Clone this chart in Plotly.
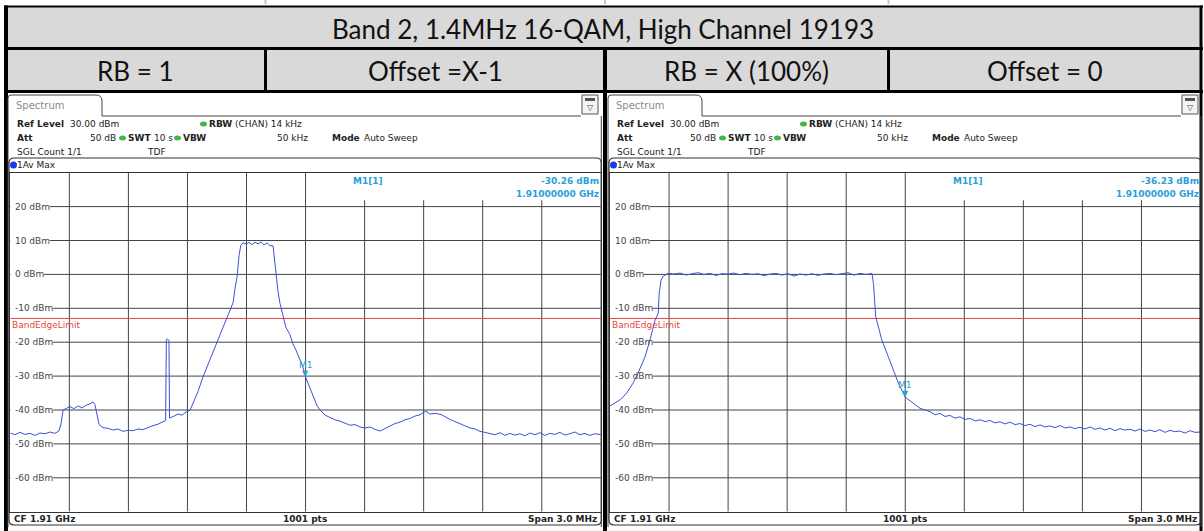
import plotly.graph_objects as go

# ---------------- data ----------------
title_text = "Band 2, 1.4MHz 16-QAM, High Channel 19193"
row2_labels = ["RB = 1", "Offset =X-1", "RB = X (100%)", "Offset = 0"]

y_tick_values = [20, 10, 0, -10, -20, -30, -40, -50, -60]
y_tick_labels = ["20 dBm", "10 dBm", "0 dBm", "-10 dBm", "-20 dBm", "-30 dBm", "-40 dBm", "-50 dBm", "-60 dBm"]
x_grid_mhz = [1908.8, 1909.1, 1909.4, 1909.7, 1910.0, 1910.3, 1910.6, 1910.9, 1911.2]
band_edge_limit_dbm = -13.0
f_start_mhz, f_stop_mhz = 1908.5, 1911.5
ref_top_dbm, ref_bot_dbm = 30, -70

left_freq_mhz = [1908.500, 1908.524, 1908.549, 1908.575, 1908.600, 1908.625, 1908.651, 1908.676, 1908.702,
                 1908.727, 1908.747, 1908.758, 1908.768, 1908.783, 1908.803, 1908.824, 1908.844, 1908.864,
                 1908.885, 1908.905, 1908.920, 1908.930, 1908.941, 1908.951, 1908.971, 1908.996, 1909.022,
                 1909.047, 1909.073, 1909.098, 1909.123, 1909.149, 1909.174, 1909.199, 1909.225, 1909.250,
                 1909.276, 1909.289, 1909.293, 1909.298, 1909.306, 1909.309, 1909.332, 1909.352, 1909.373,
                 1909.393, 1909.413, 1909.433, 1909.454, 1909.479, 1909.505, 1909.530, 1909.550, 1909.571,
                 1909.591, 1909.606, 1909.621, 1909.632, 1909.642, 1909.652, 1909.662, 1909.671, 1909.682,
                 1909.698, 1909.713, 1909.728, 1909.743, 1909.759, 1909.774, 1909.789, 1909.804, 1909.819,
                 1909.835, 1909.842, 1909.850, 1909.860, 1909.870, 1909.885, 1909.900, 1909.921, 1909.936,
                 1909.951, 1909.972, 1909.987, 1910.000, 1910.023, 1910.040, 1910.058, 1910.074, 1910.099,
                 1910.124, 1910.150, 1910.175, 1910.200, 1910.226, 1910.251, 1910.277, 1910.302, 1910.327,
                 1910.353, 1910.378, 1910.403, 1910.429, 1910.454, 1910.480, 1910.505, 1910.530, 1910.556,
                 1910.581, 1910.611, 1910.632, 1910.658, 1910.688, 1910.713, 1910.734, 1910.759, 1910.785,
                 1910.810, 1910.835, 1910.861, 1910.886, 1910.911, 1910.937, 1910.962, 1910.988, 1911.013,
                 1911.038, 1911.064, 1911.089, 1911.114, 1911.140, 1911.165, 1911.191, 1911.216, 1911.241,
                 1911.267, 1911.292, 1911.318, 1911.343, 1911.368, 1911.394, 1911.419, 1911.445, 1911.470,
                 1911.500]
left_level_dbm = [-46.8, -47.3, -46.6, -47.2, -46.9, -47.5, -46.8, -47.0, -46.5,
                  -46.9, -46.2, -44.0, -40.0, -39.5, -39.0, -39.6, -38.8, -39.4,
                  -38.6, -38.2, -37.6, -38.4, -41.5, -44.3, -45.2, -45.4, -45.9,
                  -45.6, -46.3, -46.0, -46.1, -45.6, -45.8, -45.1, -44.6, -44.2,
                  -43.5, -43.1, -19.2, -19.0, -19.5, -42.4, -41.8, -41.2, -41.5,
                  -40.6, -40.1, -37.5, -34.5, -30.2, -26.5, -22.8, -20.3, -17.2,
                  -14.5, -12.5, -10.0, -8.3, -4.0, -0.8, 5.5, 8.6, 9.3,
                  9.0, 9.4, 8.8, 9.5, 9.0, 9.6, 8.7, 9.3, 8.5,
                  8.4, 5.0, -0.7, -5.0, -8.5, -12.5, -15.6, -17.8, -20.5,
                  -22.3, -25.3, -27.4, -30.26, -33.5, -36.1, -38.7, -40.0, -41.5,
                  -42.2, -42.9, -43.3, -43.8, -44.5, -44.3, -45.0, -45.3, -45.0,
                  -45.7, -46.2, -45.5, -44.8, -44.0, -43.6, -42.9, -42.5, -41.8,
                  -41.4, -40.3, -41.2, -41.0, -41.3, -42.2, -42.8, -43.4, -44.0,
                  -44.7, -45.3, -45.6, -46.3, -46.6, -46.9, -47.3, -46.7, -47.5,
                  -46.9, -47.4, -47.0, -47.6, -46.8, -47.3, -46.7, -47.5, -46.9,
                  -47.2, -46.6, -47.4, -47.0, -46.5, -47.3, -46.9, -47.5, -47.0,
                  -47.3]

right_freq_mhz = [1908.500, 1908.520, 1908.551, 1908.585, 1908.617, 1908.642, 1908.678, 1908.703, 1908.729,
                  1908.745, 1908.750, 1908.759, 1908.771, 1908.795, 1908.825, 1908.856, 1908.886, 1908.917,
                  1908.947, 1908.978, 1909.008, 1909.039, 1909.069, 1909.099, 1909.130, 1909.160, 1909.191,
                  1909.221, 1909.252, 1909.282, 1909.313, 1909.343, 1909.374, 1909.404, 1909.435, 1909.465,
                  1909.496, 1909.526, 1909.557, 1909.587, 1909.618, 1909.648, 1909.679, 1909.709, 1909.740,
                  1909.770, 1909.801, 1909.831, 1909.839, 1909.843, 1909.850, 1909.857, 1909.881, 1909.914,
                  1909.939, 1909.965, 1910.000, 1910.041, 1910.075, 1910.126, 1910.152, 1910.177, 1910.202,
                  1910.227, 1910.253, 1910.278, 1910.304, 1910.329, 1910.355, 1910.380, 1910.405, 1910.431,
                  1910.456, 1910.481, 1910.507, 1910.532, 1910.558, 1910.583, 1910.608, 1910.634, 1910.659,
                  1910.685, 1910.710, 1910.735, 1910.761, 1910.786, 1910.812, 1910.837, 1910.862, 1910.888,
                  1910.913, 1910.939, 1910.964, 1910.989, 1911.015, 1911.040, 1911.066, 1911.091, 1911.116,
                  1911.142, 1911.167, 1911.193, 1911.218, 1911.243, 1911.269, 1911.294, 1911.320, 1911.345,
                  1911.370, 1911.396, 1911.421, 1911.447, 1911.472, 1911.500]
right_level_dbm = [-38.8, -38.0, -37.0, -35.0, -32.1, -29.2, -24.3, -19.4, -13.5,
                   -11.5, -5.6, -1.7, -0.5, 0.3, 0.1, 0.4, -0.2, 0.2,
                   0.5, 0.0, 0.3, -0.3, 0.2, 0.1, 0.4, -0.1, 0.3,
                   0.0, 0.2, -0.4, 0.1, 0.3, -0.2, 0.2, -0.5, 0.1,
                   -0.2, 0.2, -0.3, 0.1, 0.3, -0.1, 0.2, 0.5, -0.2,
                   0.3, 0.0, 0.3, -3.0, -5.6, -12.5, -14.0, -19.4, -24.3,
                   -28.2, -32.1, -36.23, -38.0, -39.5, -40.5, -41.4, -41.0, -41.9,
                   -41.6, -42.4, -42.0, -42.8, -42.5, -43.2, -42.9, -43.4, -43.1,
                   -43.8, -43.5, -44.1, -43.6, -44.3, -44.0, -44.6, -44.2, -44.9,
                   -44.4, -45.0, -44.7, -45.2, -44.6, -45.3, -45.0, -45.5, -45.1,
                   -45.6, -45.0, -45.7, -45.3, -45.9, -45.4, -46.1, -45.5, -45.9,
                   -45.7, -46.2, -45.6, -46.3, -45.9, -46.4, -45.8, -46.6, -46.0,
                   -46.4, -46.2, -46.8, -46.1, -46.6, -46.5]

marker_freq_mhz = 1910.0
marker_level_left = -30.26
marker_level_right = -36.23

# ---------------- layout helpers ----------------
W, H = 1204, 531
FONT = "DejaVu Sans"
TABLE_FONT = "Lato"
GRID = "#454545"
TRACE = "#3f51d6"
MK = "#2b9fd8"
TXT = "#222222"


def px(x):
    return x / W


def py(y):
    return 1 - y / H


fig = go.Figure()
grid_shapes = []
shapes = []
annotations = []


def ann(text, x, y, size=9, color=TXT, anchor="left", family=FONT, **kw):
    annotations.append(dict(text=text, x=px(x), y=py(y), xref="paper", yref="paper",
                            xanchor=anchor, yanchor="middle", showarrow=False,
                            borderpad=0, borderwidth=0,
                            font=dict(family=family, size=size, color=color), **kw))


def rect(x0, y0, x1, y1, fill=None, line=None, lw=0):
    shapes.append(dict(type="rect", xref="paper", yref="paper",
                       x0=px(x0), x1=px(x1), y0=py(y1), y1=py(y0),
                       fillcolor=fill if fill else "rgba(0,0,0,0)",
                       line=dict(color=line if line else "rgba(0,0,0,0)", width=lw)))


def hline(x0, x1, y, color="#000", w=1):
    shapes.append(dict(type="line", xref="paper", yref="paper", x0=px(x0), x1=px(x1),
                       y0=py(y), y1=py(y), line=dict(color=color, width=w)))


def vline(x, y0, y1, color="#000", w=1):
    shapes.append(dict(type="line", xref="paper", yref="paper", x0=px(x), x1=px(x),
                       y0=py(y0), y1=py(y1), line=dict(color=color, width=w)))


# ---------------- table header ----------------
rect(6, 7, 1201, 48, fill="#d9d9d9")
rect(6, 48, 1201, 91, fill="#d9d9d9")
hline(4, 1203, 6.5, "#000", 2)
hline(4, 1203, 48.5, "#000", 3)
hline(4, 1203, 91.5, "#000", 3)
vline(6, 5.5, 531, "#000", 4)
vline(1201, 5.5, 531, "#000", 3)
vline(605, 47, 531, "#000", 4)
vline(265.5, 47, 92, "#000", 3)
vline(888.5, 47, 92, "#000", 3)
for xt in (265.5, 605, 888.5):
    vline(xt, 0, 4, "#c8c8c8", 2)
ann(title_text, 603, 29, size=26, family=TABLE_FONT, anchor="center", color="#111")
for lbl, cx in zip(row2_labels, [135, 435, 746, 1045]):
    ann(lbl, cx, 71, size=26, family=TABLE_FONT, anchor="center", color="#111")

# ---------------- spectrum panels ----------------
panels = [
    dict(dx=0, xa="x", ya="y", freq=left_freq_mhz, lvl=left_level_dbm,
         mlev=marker_level_left, x0=10.3, x1=600.8),
    dict(dx=600, xa="x2", ya="y2", freq=right_freq_mhz, lvl=right_level_dbm,
         mlev=marker_level_right, x0=610.0, x1=1200.5),
]
plot_top, plot_bot = 172.7, 511.7
px_per_mhz = (600.8 - 10.3) / (f_stop_mhz - f_start_mhz)

char_w = {"-": 3.3, " ": 2.9, "d": 5.7, "B": 6.2, "m": 8.8}

for i, p in enumerate(panels):
    dx = p["dx"]
    xa, ya = p["xa"], p["ya"]
    # ---- grid (shapes, below traces) ----
    for fx in x_grid_mhz:
        grid_shapes.append(dict(type="line", xref=xa, yref=ya, x0=fx, x1=fx, y0=ref_bot_dbm, y1=ref_top_dbm,
                                line=dict(color=GRID, width=1), layer="below"))
    for v in y_tick_values:
        grid_shapes.append(dict(type="line", xref=xa, yref=ya, x0=f_start_mhz, x1=f_stop_mhz, y0=v, y1=v,
                                line=dict(color=GRID, width=1), layer="below"))
    # white patch hiding grid under marker info
    grid_shapes.append(dict(type="rect", xref=xa, yref=ya, x0=1910.1, x1=f_stop_mhz, y0=21.9, y1=ref_top_dbm,
                            fillcolor="white", line=dict(width=0), layer="below"))
    # y labels with white patches
    for v, lab in zip(y_tick_values, y_tick_labels):
        wpx = sum(char_w.get(c, 5.7) for c in lab) + 4.5
        grid_shapes.append(dict(type="rect", xref=xa, yref=ya, x0=f_start_mhz,
                                x1=f_start_mhz + wpx / px_per_mhz,
                                y0=v - 1.3, y1=v + 1.3, fillcolor="white", line=dict(width=0), layer="below"))
        annotations.append(dict(text=lab, xref=xa, yref=ya, x=f_start_mhz + 3.5 / px_per_mhz, y=v,
                                xanchor="left", yanchor="middle", showarrow=False, borderpad=0,
                                font=dict(family=FONT, size=9, color="#444")))
    # band edge limit
    grid_shapes.append(dict(type="line", xref=xa, yref=ya, x0=f_start_mhz, x1=f_stop_mhz,
                            y0=band_edge_limit_dbm, y1=band_edge_limit_dbm,
                            line=dict(color="#e8453c", width=1), layer="below"))
    annotations.append(dict(text="BandEdgeLimit", xref=xa, yref=ya, x=f_start_mhz + 0.5 / px_per_mhz,
                            y=band_edge_limit_dbm, xanchor="left", yanchor="top", yshift=-1,
                            showarrow=False, borderpad=0,
                            font=dict(family=FONT, size=9, color="#e8453c")))

    # ---- panel frame ----
    shapes.append(dict(type="path", xref="paper", yref="paper",
                       path=(f"M {px(8+dx)} {py(527)} L {px(8+dx)} {py(98)} "
                             f"Q {px(8+dx)} {py(95)} {px(11+dx)} {py(95)} L {px(96+dx)} {py(95)} "
                             f"Q {px(102+dx)} {py(95)} {px(102+dx)} {py(101)} L {px(102+dx)} {py(116)} "
                             f"L {px(581+dx)} {py(116)}"),
                       line=dict(color="#444", width=1)))
    vline(p["x1"] + 0.5, 116, 527, "#444", 1)
    r = 5
    xa_, xb_ = 9 + dx, p["x1"] + 0.5
    ya_, yb_ = 158, 525
    shapes.append(dict(type="path", xref="paper", yref="paper",
                       path=(f"M {px(xa_+r)} {py(ya_)} L {px(xb_-r)} {py(ya_)} Q {px(xb_)} {py(ya_)} {px(xb_)} {py(ya_+r)} "
                             f"L {px(xb_)} {py(yb_-r)} Q {px(xb_)} {py(yb_)} {px(xb_-r)} {py(yb_)} "
                             f"L {px(xa_+r)} {py(yb_)} Q {px(xa_)} {py(yb_)} {px(xa_)} {py(yb_-r)} "
                             f"L {px(xa_)} {py(ya_+r)} Q {px(xa_)} {py(ya_)} {px(xa_+r)} {py(ya_)} Z"),
                       line=dict(color="#333", width=1.2)))
    # icon top-right
    rect(582 + dx, 95, 598 + dx, 114, fill="#f4f4f4", line="#555", lw=1)
    rect(585 + dx, 98, 595 + dx, 101, fill="#555")
    ann("▽", 590 + dx, 107, size=8, color="#444", anchor="center")
    # tab text
    ann("Spectrum", 16 + dx, 105, size=10, color="#8a8a8a")
    # header info
    ann("<b>Ref Level</b>", 17 + dx, 124)
    ann("30.00 dBm", 70 + dx, 124)
    ann("<b>RBW</b>", 209 + dx, 124)
    ann("(CHAN) 14 kHz", 235 + dx, 124)
    ann("<b>Att</b>", 17 + dx, 138)
    ann("50 dB", 116 + dx, 138, anchor="right")
    ann("<b>SWT</b>", 128 + dx, 138)
    ann("10 s", 154 + dx, 138)
    ann("<b>VBW</b>", 183 + dx, 138)
    ann("50 kHz", 308 + dx, 138, anchor="right")
    ann("<b>Mode</b>", 332 + dx, 138)
    ann("Auto Sweep", 364 + dx, 138)
    ann("SGL Count 1/1", 17 + dx, 152)
    ann("TDF", 147 + dx, 152)
    for gx, gy in ((203.5, 124), (122.5, 138), (177.5, 138)):
        shapes.append(dict(type="circle", xref="paper", yref="paper",
                           x0=px(gx - 3.5 + dx), x1=px(gx + 3.5 + dx), y0=py(gy + 2.5), y1=py(gy - 2.5),
                           fillcolor="#44b54a", line=dict(width=0)))
    shapes.append(dict(type="circle", xref="paper", yref="paper",
                       x0=px(10 + dx), x1=px(17 + dx), y0=py(168.5), y1=py(161.5),
                       fillcolor="#1a3cf0", line=dict(width=0)))
    ann("1Av Max", 17 + dx, 165)
    # bottom bar
    ann("<b>CF 1.91 GHz</b>", 14 + dx, 518.5)
    ann("<b>1001 pts</b>", 305 + dx, 518.5, anchor="center")
    ann("<b>Span 3.0 MHz</b>", 597 + dx, 518.5, anchor="right")
    # marker info text
    ann("<b>M1[1]</b>", 353 + dx, 181, color=MK)
    ann(f"<b>{p['mlev']:.2f} dBm</b>", p["x1"] - 1.5, 181, color=MK, anchor="right")
    ann("<b>1.91000000 GHz</b>", p["x1"] - 1.5, 194, color=MK, anchor="right")

    # trace
    fig.add_trace(go.Scatter(x=p["freq"], y=p["lvl"], mode="lines", xaxis=xa, yaxis=ya,
                             line=dict(color=TRACE, width=1), showlegend=False, hoverinfo="skip"))
    # marker M1 (triangle tip on the trace point)
    annotations.append(dict(text="▼", xref=xa, yref=ya, x=marker_freq_mhz, y=p["mlev"],
                            xanchor="center", yanchor="bottom", yshift=-2, showarrow=False, borderpad=0,
                            font=dict(family=FONT, size=8, color=MK)))
    annotations.append(dict(text="M1", xref=xa, yref=ya, x=marker_freq_mhz, y=p["mlev"],
                            xanchor="center", yanchor="bottom", yshift=6, showarrow=False, borderpad=0,
                            font=dict(family=FONT, size=9, color=MK)))

axis_common_x = dict(range=[f_start_mhz, f_stop_mhz], showticklabels=False, showgrid=False, zeroline=False,
                     showline=True, linecolor="#333", linewidth=1, mirror=True, ticks="")
axis_common_y = dict(range=[ref_bot_dbm, ref_top_dbm], showticklabels=False, showgrid=False, zeroline=False,
                     showline=True, linecolor="#333", linewidth=1, mirror=True, ticks="")

fig.update_layout(
    width=W, height=H, margin=dict(l=0, r=0, t=0, b=0),
    paper_bgcolor="white", plot_bgcolor="white",
    xaxis=dict(domain=[px(panels[0]["x0"]), px(panels[0]["x1"])], anchor="y", **axis_common_x),
    yaxis=dict(domain=[py(plot_bot), py(plot_top)], anchor="x", **axis_common_y),
    xaxis2=dict(domain=[px(panels[1]["x0"]), px(panels[1]["x1"])], anchor="y2", **axis_common_x),
    yaxis2=dict(domain=[py(plot_bot), py(plot_top)], anchor="x2", **axis_common_y),
    shapes=grid_shapes + shapes, annotations=annotations,
)

fig.write_html("out.html", config={"displayModeBar": False, "staticPlot": True},
               post_script="document.body.style.margin='0px';document.body.style.padding='0px';"
                           "document.body.style.overflow='hidden';")
